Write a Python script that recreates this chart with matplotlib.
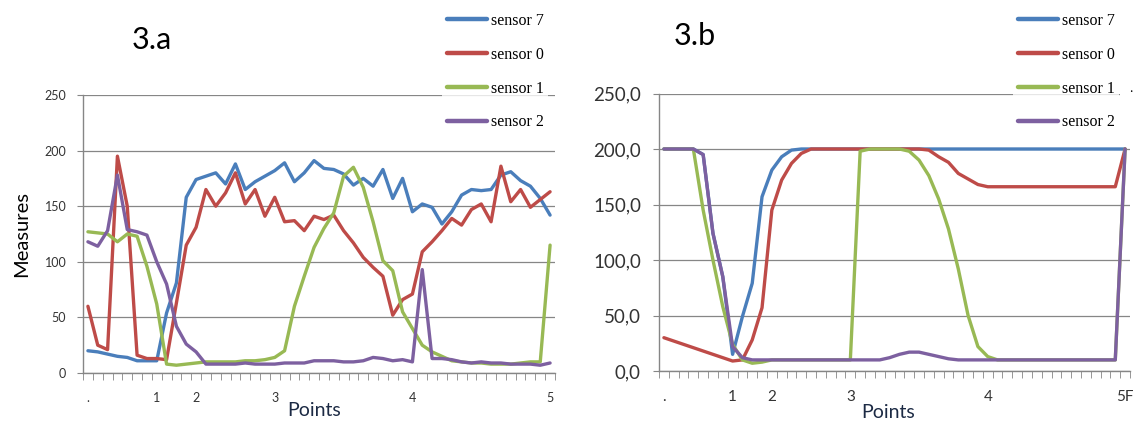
import numpy as np
import matplotlib
matplotlib.use('Agg')
import matplotlib.pyplot as plt
from matplotlib.ticker import FuncFormatter

# series
sensors = ['sensor 7', 'sensor 0', 'sensor 1', 'sensor 2']
colors = ['#4A7EBB', '#BE4B48', '#98B954', '#7D60A0']

# only a few categories carry a label
labels_a = {0: '.', 7: '1', 11: '2', 19: '3', 33: '4', 47: '5'}
labels_b = {0: '.', 7: '1', 11: '2', 19: '3', 33: '4', 47: '5F'}

# chart 3.a
s7_a = [20, 19, 17, 15, 14, 11, 11, 11, 54, 81,
        158, 174, 177, 180, 170, 188, 165, 172, 177, 182,
        189, 172, 180, 191, 184, 183, 179, 169, 175, 168,
        183, 157, 175, 145, 152, 149, 134, 145, 160, 165,
        164, 165, 178, 181, 173, 168, 157, 142]
s0_a = [60, 25, 21, 195, 150, 16, 13, 13, 12, 63,
        115, 131, 165, 150, 162, 180, 152, 165, 141, 158,
        136, 137, 128, 141, 138, 142, 128, 117, 104, 95,
        87, 52, 66, 71, 109, 118, 128, 139, 133, 147,
        152, 136, 186, 154, 165, 149, 156, 163]
s1_a = [127, 126, 125, 118, 125, 123, 96, 62, 8, 7,
        8, 9, 10, 10, 10, 10, 11, 11, 12, 14,
        20, 60, 87, 113, 130, 144, 177, 185, 167, 136,
        101, 92, 55, 40, 25, 19, 15, 11, 10, 9,
        9, 8, 8, 8, 9, 10, 10, 115]
s2_a = [118, 114, 128, 178, 129, 127, 124, 100, 80, 42,
        26, 19, 8, 8, 8, 8, 9, 8, 8, 8,
        9, 9, 9, 11, 11, 11, 10, 10, 11, 14,
        13, 11, 12, 10, 93, 13, 13, 12, 10, 9,
        10, 9, 9, 8, 8, 8, 7, 9]

# chart 3.b
s7_b = [200, 200, 200, 200, 195, 124, 85, 15, 49, 79,
        157, 181, 193, 199, 200, 200, 200, 200, 200, 200,
        200, 200, 200, 200, 200, 200, 200, 200, 200, 200,
        200, 200, 200, 200, 200, 200, 200, 200, 200, 200,
        200, 200, 200, 200, 200, 200, 200, 200]
s0_b = [30, 27, 24, 21, 18, 15, 12, 9, 10, 28,
        57, 145, 172, 187, 196, 200, 200, 200, 200, 200,
        200, 200, 200, 200, 200, 200, 200, 199, 193, 188,
        178, 173, 168, 166, 166, 166, 166, 166, 166, 166,
        166, 166, 166, 166, 166, 166, 166, 200]
s1_b = [200, 200, 200, 200, 145, 100, 58, 24, 10, 7,
        8, 10, 10, 10, 10, 10, 10, 10, 10, 10,
        198, 200, 200, 200, 200, 198, 190, 176, 155, 128,
        92, 50, 22, 13, 10, 10, 10, 10, 10, 10,
        10, 10, 10, 10, 10, 10, 10, 200]
s2_b = [200, 200, 200, 200, 195, 124, 85, 22, 12, 10,
        10, 10, 10, 10, 10, 10, 10, 10, 10, 10,
        10, 10, 10, 12, 15, 17, 17, 15, 13, 11,
        10, 10, 10, 10, 10, 10, 10, 10, 10, 10,
        10, 10, 10, 10, 10, 10, 10, 200]

W, H = 1134, 421
fig = plt.figure(figsize=(W / 100, H / 100), dpi=100)

def px(l, t, r, b):
    return [l / W, 1 - b / H, (r - l) / W, (b - t) / H]

ax_a = fig.add_axes(px(83, 95, 555, 373))
ax_b = fig.add_axes(px(659, 93.5, 1130, 371))

grey = '#868686'
txt = '#333333'

def style(ax, labels, ysize, ypad, xsize, yfmt):
    ax.set_xlim(-0.5, 47.5)
    ax.set_ylim(0, 250)
    for sp in ['top', 'right']:
        ax.spines[sp].set_visible(False)
    for sp in ['left', 'bottom']:
        ax.spines[sp].set_color(grey)
        ax.spines[sp].set_linewidth(1.0)
    ax.set_yticks(range(0, 251, 50))
    ax.yaxis.set_major_formatter(FuncFormatter(yfmt))
    ax.yaxis.grid(True, color=grey, lw=0.9)
    ax.set_axisbelow(True)
    ax.tick_params(axis='y', length=4, color=grey, pad=ypad, labelsize=ysize,
                   labelcolor=txt)
    ax.set_xticks(np.arange(-0.5, 48, 1), minor=True)
    ax.set_xticks(list(labels.keys()))
    ax.set_xticklabels(list(labels.values()))
    ax.tick_params(axis='x', which='minor', length=5, color=grey, direction='out')
    ax.tick_params(axis='x', which='major', length=0, pad=14, labelsize=xsize,
                   labelcolor=txt)
    for lab in ax.get_xticklabels() + ax.get_yticklabels():
        lab.set_family('Lato')

style(ax_a, labels_a, 9, 8, 9, lambda v, p: f'{v:.0f}')
style(ax_b, labels_b, 13.5, 9, 11, lambda v, p: f'{v:.1f}'.replace('.', ','))

x = np.arange(48)
for ax, series in [(ax_a, [s7_a, s0_a, s1_a, s2_a]),
                   (ax_b, [s7_b, s0_b, s1_b, s2_b])]:
    for name, vals, c in zip(sensors, series, colors):
        ax.plot(x, vals, color=c, lw=2.4, label=name,
                solid_joinstyle='round', solid_capstyle='round')

# legends sit in the top right corner of each panel, on a white box
for ax, left in [(ax_a, 442), (ax_b, 1013)]:
    h, l = ax.get_legend_handles_labels()
    leg = fig.legend(h, l, loc='upper left', bbox_to_anchor=(left / W, 1 - 8 / H),
                     prop={'family': 'Liberation Serif', 'size': 11.5},
                     frameon=True, fancybox=False, borderpad=0.3,
                     borderaxespad=0, handlelength=2.5, handletextpad=0.25,
                     labelspacing=1.12)
    leg.get_frame().set_facecolor('white')
    leg.get_frame().set_edgecolor('none')
    for line in leg.get_lines():
        line.set_linewidth(3.2)

# stray dot after "sensor 1" in the right legend (white box hides grid stub)
fig.text(1133 / W, 1 - 89 / H, '  .', fontsize=10, family='Liberation Serif',
         ha='right', va='center', zorder=10,
         bbox=dict(facecolor='white', edgecolor='none', pad=2))

# titles and axis titles
fig.text(152 / W, 1 - 40 / H, '3.a', fontsize=22, family='Lato', ha='center', va='center')
fig.text(695 / W, 1 - 36 / H, '3.b', fontsize=22, family='Lato', ha='center', va='center')
fig.text(22 / W, 1 - 234 / H, 'Measures', fontsize=14.5, family='Lato', rotation=90,
         ha='center', va='center')
fig.text(314 / W, 1 - 411 / H, 'Points', fontsize=14, family='Lato',
         color='#1c2a44', ha='center', va='center')
fig.text(888 / W, 1 - 412 / H, 'Points', fontsize=14, family='Lato',
         color='#1c2a44', ha='center', va='center')

fig.savefig('out.png', dpi=100)
